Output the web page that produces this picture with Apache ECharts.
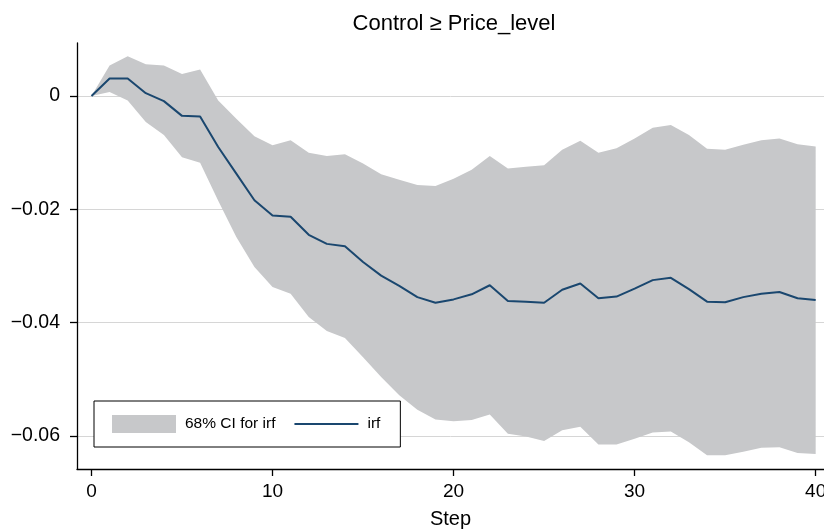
<!DOCTYPE html>
<html>
<head>
<meta charset="utf-8">
<script src="https://cdn.jsdelivr.net/npm/echarts@6/dist/echarts.min.js"></script>
<style>
html,body{margin:0;padding:0;background:#fff;}
#chart{width:824px;height:529px;}
</style>
</head>
<body>
<div id="chart"></div>
<script>
// ---- data ----
const steps = [0,1,2,3,4,5,6,7,8,9,10,11,12,13,14,15,16,17,18,19,20,21,22,23,24,25,26,27,28,29,30,31,32,33,34,35,36,37,38,39,40];
const irf = [0, 0.0031, 0.0031, 0.0005, -0.0009, -0.0035, -0.0036, -0.0090, -0.0137, -0.0184, -0.0211, -0.0213, -0.0245, -0.0261, -0.0265, -0.0293, -0.0317, -0.0335, -0.0355, -0.0365, -0.0359, -0.0350, -0.0334, -0.0362, -0.0363, -0.0365, -0.0342, -0.0331, -0.0357, -0.0354, -0.0340, -0.0325, -0.0321, -0.0341, -0.0363, -0.0364, -0.0355, -0.0349, -0.0346, -0.0357, -0.0360];
const ciUpper = [0, 0.0054, 0.0070, 0.0056, 0.0054, 0.0039, 0.0047, -0.0008, -0.0040, -0.0071, -0.0087, -0.0078, -0.0100, -0.0106, -0.0103, -0.0119, -0.0138, -0.0148, -0.0157, -0.0159, -0.0146, -0.0130, -0.0106, -0.0128, -0.0125, -0.0122, -0.0095, -0.0079, -0.0100, -0.0092, -0.0075, -0.0056, -0.0051, -0.0069, -0.0093, -0.0095, -0.0086, -0.0078, -0.0075, -0.0085, -0.0089];
const ciLower = [0, 0.0007, -0.0008, -0.0046, -0.0069, -0.0108, -0.0118, -0.0185, -0.0249, -0.0302, -0.0337, -0.0349, -0.0390, -0.0415, -0.0427, -0.0461, -0.0496, -0.0528, -0.0554, -0.0571, -0.0574, -0.0572, -0.0562, -0.0596, -0.0601, -0.0609, -0.0590, -0.0584, -0.0615, -0.0615, -0.0605, -0.0594, -0.0592, -0.0611, -0.0634, -0.0634, -0.0628, -0.0621, -0.0620, -0.0630, -0.0632];
const xTicks = [0, 10, 20, 30, 40];
const yTicks = [0, -0.02, -0.04, -0.06];
const titleText = 'Control \u2265 Price_level';
const xName = 'Step';
const ciName = '68% CI for irf';
const irfName = 'irf';

// ---- chart ----
const FONT = "'Liberation Sans', Arial, Helvetica, sans-serif";
const BAND = '#c7c8ca';
const NAVY = '#1a476f';
const chart = echarts.init(document.getElementById('chart'));
const fmtY = v => (v === 0 ? '0' : '\u2212' + Math.abs(v).toFixed(2));

chart.setOption({
  animation: false,
  backgroundColor: '#ffffff',
  title: {
    text: titleText,
    left: 449,
    textAlign: 'center',
    top: 8,
    textStyle: { fontFamily: FONT, fontSize: 22, fontWeight: 'normal', color: '#000' }
  },
  grid: { left: 77, right: 0, top: 43, bottom: 60, containLabel: false, outerBoundsMode: 'none' },
  legend: {
    left: 94,
    top: 401,
    orient: 'horizontal',
    backgroundColor: '#fff',
    borderColor: '#000',
    borderWidth: 1,
    borderRadius: 0,
    padding: [14, 20, 14, 18],
    itemWidth: 64,
    itemHeight: 18,
    itemGap: 18,
    textStyle: { fontFamily: FONT, fontSize: 15.5, color: '#000', padding: [0, 0, 0, 4] },
    data: [
      { name: ciName, icon: 'rect', itemStyle: { color: BAND, borderWidth: 0 } },
      { name: irfName, itemStyle: { color: 'rgba(0,0,0,0)', borderColor: 'rgba(0,0,0,0)', borderWidth: 0 }, lineStyle: { color: NAVY, width: 2 } }
    ]
  },
  xAxis: {
    type: 'value',
    min: -0.8,
    max: 40.46,
    name: xName,
    nameLocation: 'middle',
    nameGap: 40,
    nameTextStyle: { fontFamily: FONT, fontSize: 20, color: '#000' },
    axisLine: { show: true, onZero: false, lineStyle: { color: '#000', width: 1.3 } },
    axisTick: { show: true, length: 7, customValues: xTicks, lineStyle: { color: '#000', width: 1.3 } },
    axisLabel: { customValues: xTicks, margin: 13, fontFamily: FONT, fontSize: 19, color: '#000' },
    splitLine: { show: false }
  },
  yAxis: {
    type: 'value',
    min: -0.06584,
    max: 0.00936,
    axisLine: { show: true, onZero: false, lineStyle: { color: '#000', width: 1.3 } },
    axisTick: { show: true, length: 7, customValues: yTicks, lineStyle: { color: '#000', width: 1.3 } },
    axisLabel: { customValues: yTicks, margin: 17, fontFamily: FONT, fontSize: 19.5, color: '#000', formatter: fmtY },
    splitLine: { show: true, lineStyle: { color: '#d6d6d6', width: 1 } }
  },
  series: [
    {
      name: ciName,
      type: 'custom',
      data: steps.map((s, i) => [s, ciLower[i], ciUpper[i]]),
      encode: { x: 0, y: [1, 2] },
      itemStyle: { color: BAND },
      silent: true,
      z: 1,
      renderItem: function (params, api) {
        if (params.dataIndex !== 0) return null;
        const pts = [];
        for (let i = 0; i < steps.length; i++) pts.push(api.coord([steps[i], ciUpper[i]]));
        for (let i = steps.length - 1; i >= 0; i--) pts.push(api.coord([steps[i], ciLower[i]]));
        return { type: 'polygon', shape: { points: pts }, style: { fill: BAND, stroke: null } };
      }
    },
    {
      name: irfName,
      type: 'line',
      data: steps.map((s, i) => [s, irf[i]]),
      showSymbol: false,
      symbol: 'none',
      lineStyle: { color: NAVY, width: 2 },
      itemStyle: { color: NAVY },
      z: 3
    }
  ]
});
</script>
</body>
</html>
